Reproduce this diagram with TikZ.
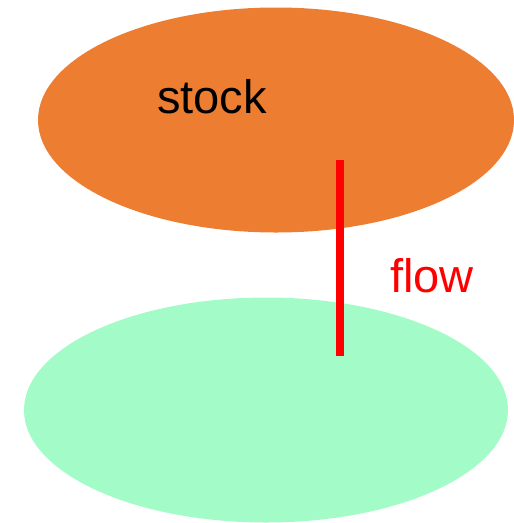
\documentclass[tikz,border=0pt]{standalone}
\usepackage{fontspec}
\setmainfont{Liberation Sans}
\usetikzlibrary{positioning, shapes.geometric}
\definecolor{stockorange}{HTML}{ED7D31}
\definecolor{poolgreen}{HTML}{A3FCC8}
\tikzset{
every ellipse node/.style={draw=none, ellipse, inner sep=0pt},
bigtext/.style={font=\fontsize{47}{56}\selectfont, inner sep=0pt},
flowline/.style={draw=red, line width=8pt},
}

\begin{document}
\begin{tikzpicture}[x=1pt, y=-1pt]
    \useasboundingbox (0,0) rectangle (514,523);

    \node[ellipse, fill=stockorange, minimum width=476pt, minimum height=225pt] (stock) at (276,120) {};
    \node[ellipse, fill=poolgreen, minimum width=484pt, minimum height=225pt] (pool) at (266,410) {};

    %lables
    \node[bigtext] (stocklabel) at (212,97) {stock};
    \node[bigtext, text=red] (flowlabel) at (432,276) {flow};

    \coordinate (flowtop) at (340,160);
    \coordinate (flowbottom) at (340,356);
    \draw[flowline] (flowtop)--(flowbottom);
\end{tikzpicture}
\end{document}
